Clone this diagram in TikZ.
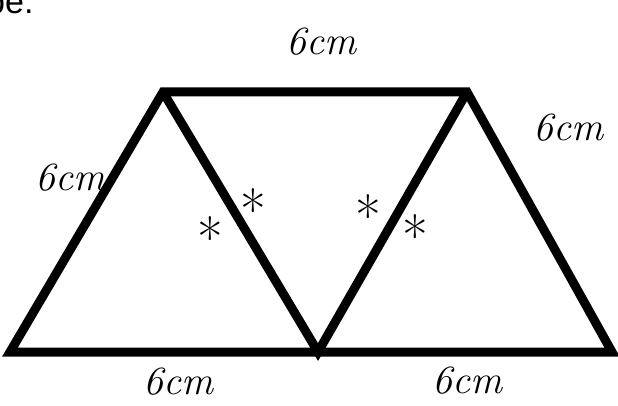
\documentclass[tikz,border=0pt]{standalone}
\usepackage{fontspec}
\newfontfamily\arialfont{Liberation Sans}
\begin{document}
\begin{tikzpicture}[x=1pt,y=-1pt,
  edge/.style={line width=9pt,line join=miter,black},
  hand/.style={font=\fontsize{40}{42}\selectfont\itshape,inner sep=0pt},
  star/.style={font=\fontsize{56}{56}\selectfont,inner sep=0pt}]
\useasboundingbox (0,0) rectangle (618,406);
\clip (0,0) rectangle (618,406);
\node[anchor=base west,inner sep=0pt,font=\arialfont\fontsize{34}{36}\selectfont] (cap) at (-14,14) {be.};
\coordinate (TL) at (163,92);
\coordinate (TR) at (467,92);
\coordinate (BL) at (10,352);
\coordinate (BM) at (318,352);
\coordinate (BR) at (612,352);
\draw[edge] (BL) -- (TL) -- (TR) -- (BR) -- cycle;
\draw[edge] (TL) -- (BM) -- (TR);
\node[hand] (lt) at (321,42) {6cm};
\node[hand] (ll) at (70,178) {6cm};
\node[hand] (lr) at (568,128) {6cm};
\node[hand] (lbl) at (178,382) {6cm};
\node[hand] (lbr) at (467,381) {6cm};
\node[star] (s1) at (210,238) {*};
\node[star] (s2) at (253,210) {*};
\node[star] (s3) at (368,216) {*};
\node[star] (s4) at (415,236) {*};
\end{tikzpicture}
\end{document}
